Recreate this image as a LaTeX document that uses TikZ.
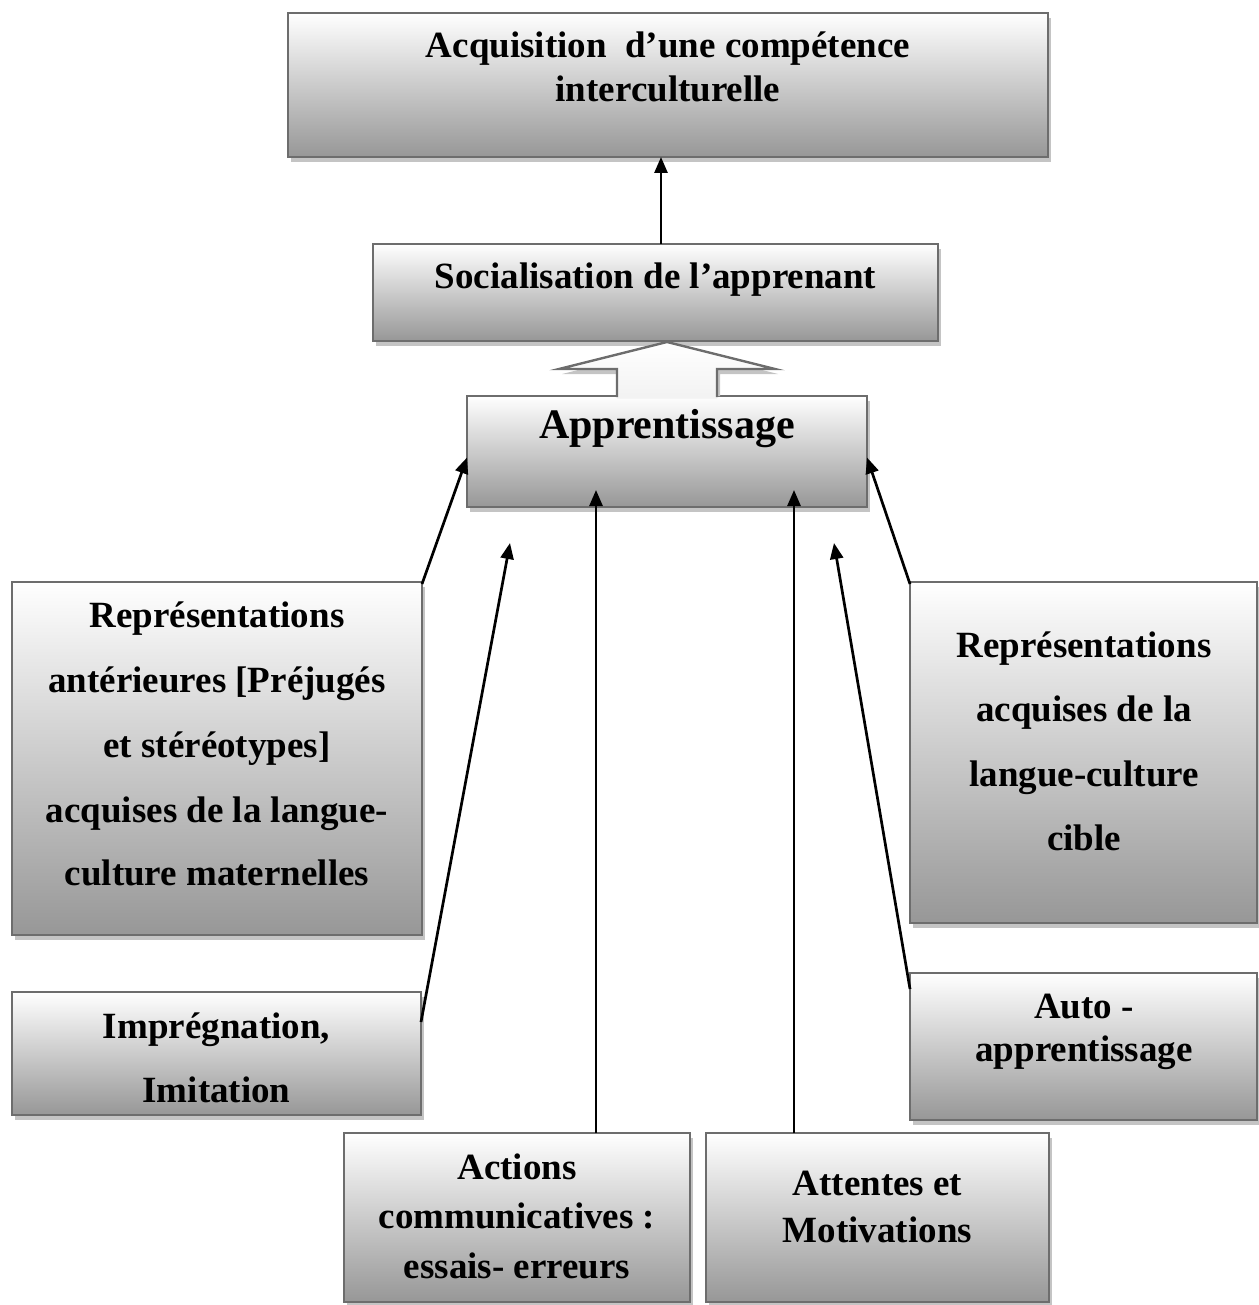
\documentclass[tikz,border=0pt]{standalone}
\usepackage{fontspec}
\setmainfont{Liberation Serif}
\usetikzlibrary{arrows.meta,shadows,calc}
\definecolor{bordergray}{HTML}{6D6D6D}
\definecolor{shadowgray}{HTML}{C4C4C4}
\definecolor{fillbottom}{HTML}{979797}
\tikzset{
  box/.style={rectangle, draw=bordergray, line width=2.4pt, top color=white, bottom color=fillbottom,
    general shadow={fill=shadowgray, shadow xshift=3pt, shadow yshift=-5pt}, inner sep=0pt, outer sep=0pt},
  txt/.style={font=\fontsize{37pt}{44pt}\selectfont\bfseries, anchor=base, inner sep=0pt},
  bigtxt/.style={font=\fontsize{42pt}{50pt}\selectfont\bfseries, anchor=base, inner sep=0pt},
  conn/.style={line width=2.7pt, draw=black, -{Triangle[length=16pt,width=13pt]}},
  blockline/.style={draw=bordergray, line width=2.4pt, line join=miter}
}
\begin{document}
\begin{tikzpicture}[x=1pt,y=-1pt]
\useasboundingbox (0,0) rectangle (1258,1305);

% boxes
\node[box, minimum width=760pt, minimum height=144pt] (top) at (668,85) {};
\node[box, minimum width=565pt, minimum height=97pt] (soc) at (655.5,292.5) {};
\node[box, minimum width=400pt, minimum height=111pt] (app) at (667,451.5) {};
\node[box, minimum width=410pt, minimum height=353pt] (left) at (217,758.5) {};
\node[box, minimum width=347pt, minimum height=341pt] (right) at (1083.5,752.5) {};
\node[box, minimum width=409pt, minimum height=123pt] (impr) at (216.5,1053.5) {};
\node[box, minimum width=347pt, minimum height=147pt] (auto) at (1083.5,1046.5) {};
\node[box, minimum width=346pt, minimum height=169pt] (act) at (517,1217.5) {};
\node[box, minimum width=343pt, minimum height=169pt] (att) at (877.5,1217.5) {};

% block arrow from Apprentissage to Socialisation
\fill[shadowgray] (670,347) -- (778,374) -- (720,374) -- (720,396) -- (620,396) -- (620,374) -- (562,374) -- cycle;
\shade[top color=white, bottom color=black!5] (667,342) -- (775,369) -- (717,369) -- (717,398.5) -- (617,398.5) -- (617,369) -- (559,369) -- cycle;
\draw[blockline] (617,397.2) -- (617,369) -- (559,369) -- (667,342) -- (775,369) -- (717,369) -- (717,397.2);

% texts
\node[txt] (t1a) at (668,58) {Acquisition\ \ d’une compétence};
\node[txt] (t1b) at (668,102) {interculturelle};
\node[txt] (t2) at (655.5,289) {Socialisation de l’apprenant};
\node[bigtxt] (t3) at (667,438) {Apprentissage};
\node[txt] (t4a) at (217,627) {Représentations};
\node[txt] (t4b) at (217,692) {antérieures [Préjugés};
\node[txt] (t4c) at (217,757) {et stéréotypes]};
\node[txt] (t4d) at (217,822) {acquises de la langue-};
\node[txt] (t4e) at (217,885) {culture maternelles};
\node[txt] (t5a) at (1084,657) {Représentations};
\node[txt] (t5b) at (1084,721) {acquises de la};
\node[txt] (t5c) at (1084,786) {langue-culture};
\node[txt] (t5d) at (1084,850) {cible};
\node[txt] (t6a) at (216.5,1038) {Imprégnation,};
\node[txt] (t6b) at (216.5,1102) {Imitation};
\node[txt] (t7a) at (1084,1018) {Auto -};
\node[txt] (t7b) at (1084,1061) {apprentissage};
\node[txt] (t8a) at (517,1179) {Actions};
\node[txt] (t8b) at (517,1228) {communicatives :};
\node[txt] (t8c) at (517,1278) {essais- erreurs};
\node[txt] (t9a) at (877.5,1195) {Attentes et};
\node[txt] (t9b) at (877.5,1242) {Motivations};

% connectors
\coordinate (topA) at (661,157);
\coordinate (tipB) at (510,543);
\coordinate (tipC) at (596,490);
\coordinate (tipD) at (794,490);
\coordinate (tipE) at (834,543);
\draw[conn] (soc.north -| topA) -- (top.south -| topA);
\draw[conn] ([yshift=-2pt]left.north east) -- ([yshift=-6pt]app.west);
\draw[conn] ([yshift=-2pt]right.north west) -- ([yshift=-6pt]app.east);
\draw[conn] ([yshift=-30pt]impr.north east) -- (tipB);
\draw[conn] ([yshift=-16pt]auto.north west) -- (tipE);
\draw[conn] (act.north -| tipC) -- (tipC);
\draw[conn] (att.north -| tipD) -- (tipD);
\end{tikzpicture}
\end{document}
